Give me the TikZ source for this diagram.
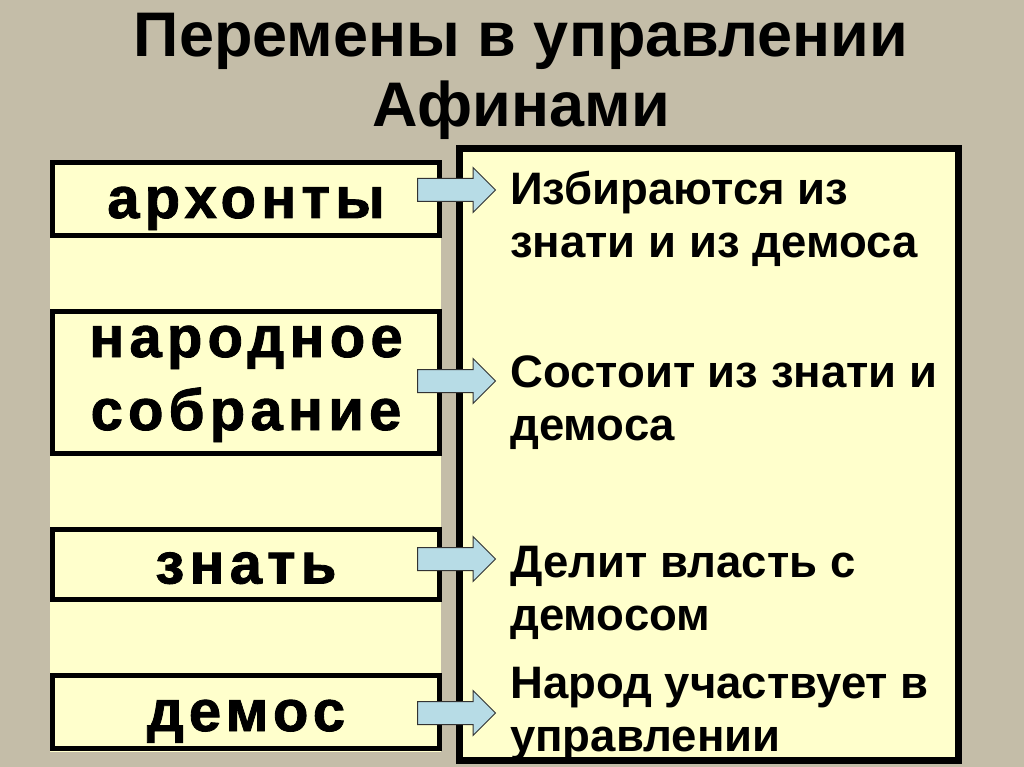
\documentclass[tikz,border=0pt]{standalone}
\usepackage{fontspec}
\setmainfont{Liberation Sans}
\newfontfamily\widefont[LetterSpace=9,BoldFeatures={FakeBold=1.5}]{Liberation Sans}
\usetikzlibrary{positioning,shapes.arrows}
\definecolor{burlap}{HTML}{C4BDA8}
\definecolor{paleyellow}{HTML}{FFFFCC}
\definecolor{skyblue}{HTML}{B7DCE6}

\begin{document}
\begin{tikzpicture}[x=1pt, y=-1pt, node distance=71pt,
  rolebox/.style={draw=black, line width=5pt, fill=paleyellow, minimum width=387pt, inner sep=0pt, align=center, text height=40pt, text depth=2pt, font=\widefont\bfseries\fontsize{58}{73}\selectfont},
  notetext/.style={anchor=north west, inner sep=0pt, align=left, font=\bfseries\fontsize{45.5}{53}\selectfont},
  cyanarrow/.style={single arrow, draw=black!80, line width=1pt, fill=skyblue, minimum height=78pt, minimum width=44pt, single arrow head extend=11pt, inner xsep=0pt, inner ysep=11pt, anchor=west}]
\useasboundingbox[fill=burlap] (0,0) rectangle (1024,767);
\node[anchor=north, inner sep=0pt, align=center, font=\bfseries\fontsize{63}{70}\selectfont] (title) at (521,13) {Перемены в управлении\\Афинами};
% panels
\fill[paleyellow] (50,200) rectangle (441,752);
\draw[line width=7pt, fill=paleyellow] (459.5,148.5) rectangle (958.5,760.5);
% left boxes
\node[rolebox, minimum height=73pt] (archons) at (246,199) {архонты};
\node[rolebox, minimum height=142pt, text height=97pt, below=of archons] (assembly) {народное\\собрание};
\node[rolebox, minimum height=70pt, below=of assembly] (nobility) {знать};
\node[rolebox, minimum height=73pt, below=of nobility] (demos) {демос};
% arrows
\foreach \n/\y in {archons/190,assembly/381,nobility/559,demos/713}
  \node[cyanarrow] (\n arrow) at (417,\y) {};
% right texts
\node[notetext] (archonsnote) at (510,171) {Избираются из\\знати и из демоса};
\node[notetext] (assemblynote) at (510,356) {Состоит из знати и\\демоса};
\node[notetext] (nobilitynote) at (510,546) {Делит власть с\\демосом};
\node[notetext] (demosnote) at (510,667) {Народ участвует в\\управлении};
\end{tikzpicture}
\end{document}
